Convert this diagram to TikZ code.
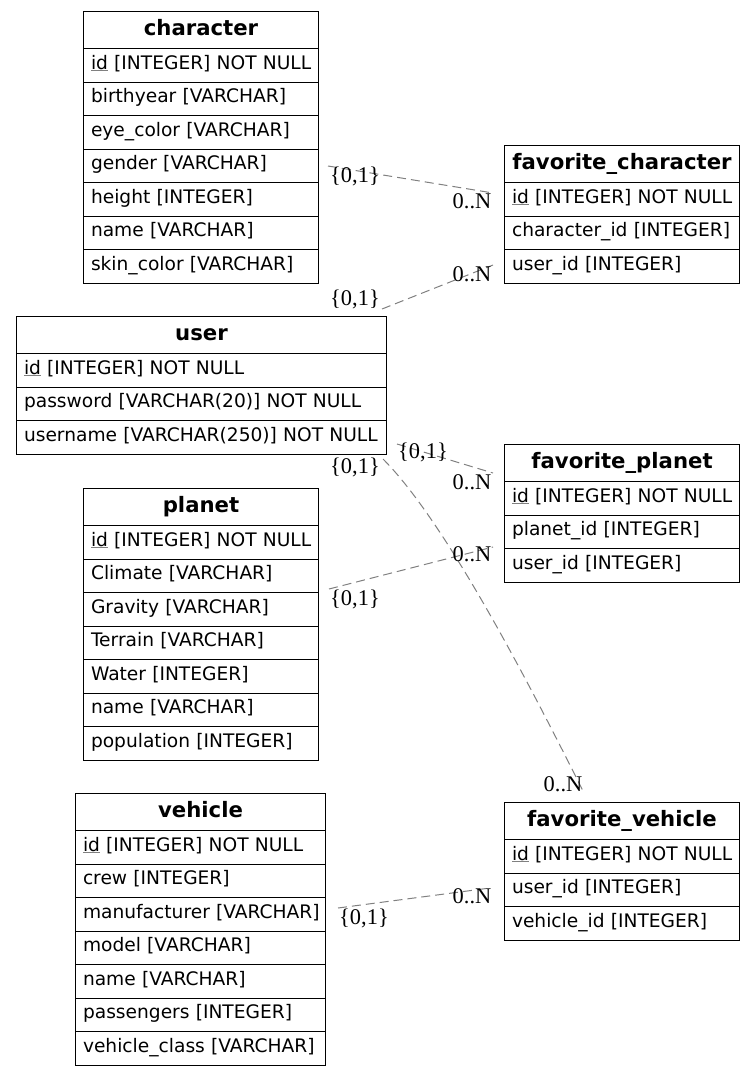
\documentclass[tikz,border=0pt]{standalone}
\usepackage{fontspec}
\setmainfont{DejaVu Sans}
\newfontfamily\cardfont{Liberation Serif}
\definecolor{linkgray}{HTML}{808080}
\newcommand{\pkey}[1]{\rlap{\textcolor{gray}{\underline{\phantom{#1}}}}#1}
\tikzset{
	tabhead/.style={draw, line width=1bp, anchor=north west, minimum height=37bp, inner xsep=7.5bp, inner ysep=0pt, align=center, text height=15.5bp, text depth=4.5bp, font={\fontsize{21.3}{24}\selectfont\bfseries}},
	tabrow/.style={draw, line width=1bp, anchor=north west, minimum height=33.5bp, inner xsep=7.5bp, inner ysep=0pt, align=left, text height=14bp, text depth=6.5bp, font={\fontsize{18.7}{22}\selectfont}},
	link/.style={linkgray, line width=1bp, dash pattern=on 9bp off 5bp},
	card/.style={font={\fontsize{22.5}{24}\cardfont}, inner sep=0pt}
}
\begin{document}
\begin{tikzpicture}[x=1bp, y=-1bp]
	\useasboundingbox (0,0) rectangle (755,1075);

	\node[tabhead, text width=220bp] (character) at (83,11) {character};
	\foreach \txt [count=\i] in {{\pkey{id} [INTEGER] NOT NULL}, {birthyear [VARCHAR]}, {eye\_color [VARCHAR]}, {gender [VARCHAR]}, {height [INTEGER]}, {name [VARCHAR]}, {skin\_color [VARCHAR]}}
		\node[tabrow, text width=220bp] (character-\i) at (83,{48+(\i-1)*33.5}) {\mbox{\txt}};

	\node[tabhead, text width=220bp] (favchar) at (504,145) {favorite\_character};
	\foreach \txt [count=\i] in {{\pkey{id} [INTEGER] NOT NULL}, {character\_id [INTEGER]}, {user\_id [INTEGER]}}
		\node[tabrow, text width=220bp] (favchar-\i) at (504,{182+(\i-1)*33.5}) {\mbox{\txt}};

	\node[tabhead, text width=355bp] (user) at (16,316) {user};
	\foreach \txt [count=\i] in {{\pkey{id} [INTEGER] NOT NULL}, {password [VARCHAR(20)] NOT NULL}, {username [VARCHAR(250)] NOT NULL}}
		\node[tabrow, text width=355bp] (user-\i) at (16,{353+(\i-1)*33.5}) {\mbox{\txt}};

	\node[tabhead, text width=220bp] (favplanet) at (504,444) {favorite\_planet};
	\foreach \txt [count=\i] in {{\pkey{id} [INTEGER] NOT NULL}, {planet\_id [INTEGER]}, {user\_id [INTEGER]}}
		\node[tabrow, text width=220bp] (favplanet-\i) at (504,{481+(\i-1)*33.5}) {\mbox{\txt}};

	\node[tabhead, text width=220bp] (planet) at (83,488) {planet};
	\foreach \txt [count=\i] in {{\pkey{id} [INTEGER] NOT NULL}, {Climate [VARCHAR]}, {Gravity [VARCHAR]}, {Terrain [VARCHAR]}, {Water [INTEGER]}, {name [VARCHAR]}, {population [INTEGER]}}
		\node[tabrow, text width=220bp] (planet-\i) at (83,{525+(\i-1)*33.5}) {\mbox{\txt}};

	\node[tabhead, text width=235bp] (vehicle) at (75,793) {vehicle};
	\foreach \txt [count=\i] in {{\pkey{id} [INTEGER] NOT NULL}, {crew [INTEGER]}, {manufacturer [VARCHAR]}, {model [VARCHAR]}, {name [VARCHAR]}, {passengers [INTEGER]}, {vehicle\_class [VARCHAR]}}
		\node[tabrow, text width=235bp] (vehicle-\i) at (75,{830+(\i-1)*33.5}) {\mbox{\txt}};

	\node[tabhead, text width=220bp] (favvehicle) at (504,802) {favorite\_vehicle};
	\foreach \txt [count=\i] in {{\pkey{id} [INTEGER] NOT NULL}, {user\_id [INTEGER]}, {vehicle\_id [INTEGER]}}
		\node[tabrow, text width=220bp] (favvehicle-\i) at (504,{839+(\i-1)*33.5}) {\mbox{\txt}};

	\coordinate (chr-fav) at (328,166);
	\coordinate (favchr-chr) at (493,193);
	\coordinate (usr-favchr) at (382,309);
	\coordinate (favchr-usr) at (493,265);
	\coordinate (usr-favpl) at (397,444);
	\coordinate (favpl-usr) at (493,473);
	\coordinate (usr-favveh) at (383,459);
	\coordinate (favveh-usr) at (583,791);
	\coordinate (pl-favpl) at (329,589);
	\coordinate (favpl-pl) at (493,547);
	\coordinate (veh-favveh) at (338,908);
	\coordinate (favveh-veh) at (490,888);

	\draw[link] (chr-fav) -- (favchr-chr);
	\draw[link] (usr-favchr) -- (favchr-usr);
	\draw[link] (usr-favpl) -- (favpl-usr);
	\draw[link] (usr-favveh) .. controls +(60,60) and +(-60,-120) .. (favveh-usr);
	\draw[link] (pl-favpl) -- (favpl-pl);
	\draw[link] (veh-favveh) -- (favveh-veh);

	\node[card] (chr-fav-l) at (355,176) {\{0,1\}};
	\node[card] (favchr-chr-l) at (472,201) {0..N};
	\node[card] (usr-favchr-l) at (355,299) {\{0,1\}};
	\node[card] (favchr-usr-l) at (472,274) {0..N};
	\node[card] (usr-favpl-l) at (423,452) {\{0,1\}};
	\node[card] (favpl-usr-l) at (472,482) {0..N};
	\node[card] (usr-favveh-l) at (355,467) {\{0,1\}};
	\node[card] (favveh-usr-l) at (563,784) {0..N};
	\node[card] (pl-favpl-l) at (355,599) {\{0,1\}};
	\node[card] (favpl-pl-l) at (472,554) {0..N};
	\node[card] (veh-favveh-l) at (364,918) {\{0,1\}};
	\node[card] (favveh-veh-l) at (472,896) {0..N};
\end{tikzpicture}
\end{document}
